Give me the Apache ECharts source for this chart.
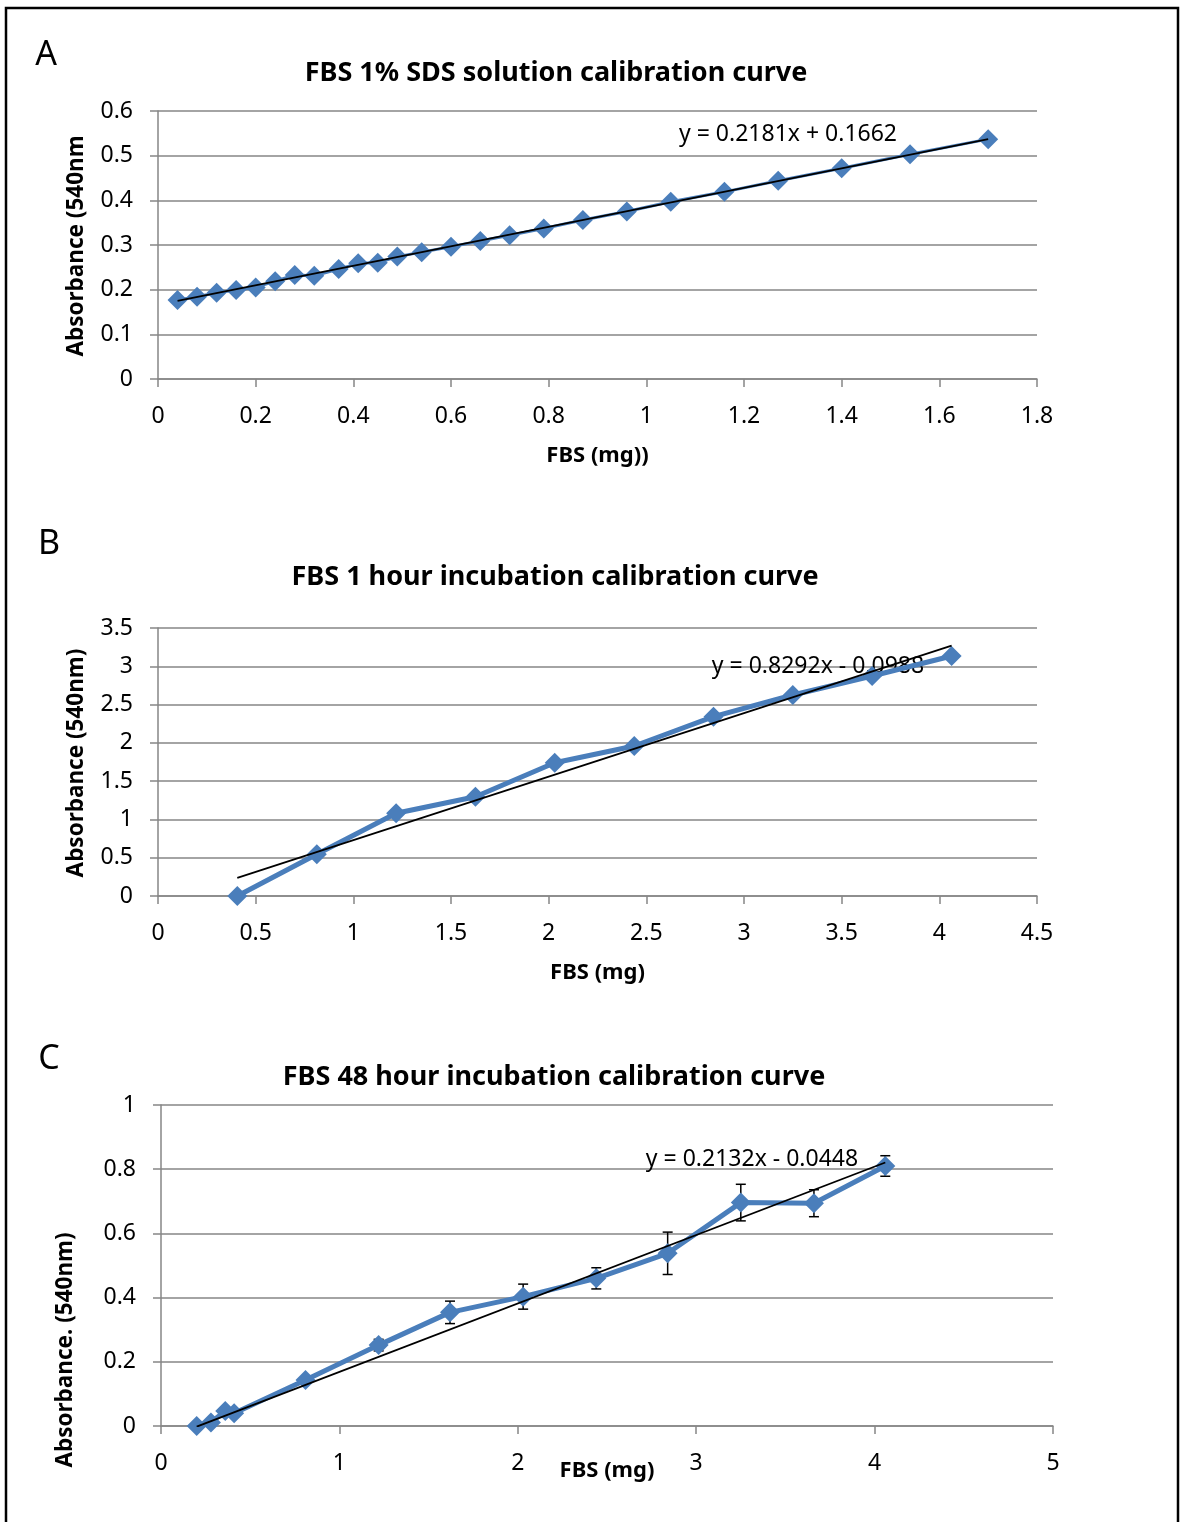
<!DOCTYPE html>
<html><head><meta charset="utf-8">
<script src="https://cdn.jsdelivr.net/npm/echarts@6/dist/echarts.min.js"></script>
<style>html,body{margin:0;padding:0;background:#fff;}#c{width:1180px;height:1522px;}</style>
</head><body><div id="c"></div>
<script>
// ---- Panel A: FBS 1% SDS solution ----
const xA = [0.04,0.08,0.12,0.16,0.20,0.24,0.28,0.32,0.37,0.41,0.45,0.49,0.54,0.60,0.66,0.72,0.79,0.87,0.96,1.05,1.16,1.27,1.40,1.54,1.70];
const yA = [0.177,0.184,0.193,0.199,0.205,0.219,0.233,0.231,0.246,0.259,0.260,0.274,0.284,0.296,0.309,0.322,0.337,0.356,0.375,0.397,0.419,0.444,0.472,0.503,0.537];
const fitA = [0.2181, 0.1662];
// ---- Panel B: 1 hour incubation ----
const xB = [0.406,0.813,1.219,1.625,2.031,2.438,2.844,3.25,3.656,4.063];
const yB = [0.0,0.545,1.08,1.297,1.741,1.959,2.342,2.625,2.873,3.134];
const fitB = [0.8292, -0.0988];
// ---- Panel C: 48 hour incubation ----
const xC = [0.2,0.28,0.36,0.41,0.81,1.22,1.62,2.03,2.44,2.84,3.25,3.66,4.06];
const yC = [0.0,0.011,0.047,0.040,0.143,0.252,0.354,0.403,0.460,0.538,0.696,0.694,0.810];
const errC = [0.004,0.005,0.006,0.005,0.008,0.018,0.035,0.039,0.033,0.066,0.057,0.042,0.032];
const fitC = [0.2132, -0.0448];

const titles = ['FBS 1% SDS solution calibration curve','FBS 1 hour incubation calibration curve','FBS 48 hour incubation calibration curve'];
const equations = ['y = 0.2181x + 0.1662','y = 0.8292x - 0.0988','y = 0.2132x - 0.0448'];
const yNames = ['Absorbance (540nm','Absorbance (540nm)','Absorbance. (540nm)'];
const xNames = ['FBS (mg))','FBS (mg)','FBS (mg)'];
const panelLetters = ['A','B','C'];
const xAxisRanges = [[0,1.8,0.2],[0,4.5,0.5],[0,5,1]];
const yAxisRanges = [[0,0.6,0.1],[0,3.5,0.5],[0,1,0.2]];

const FONT = '"Noto Sans", sans-serif';
const GRAY = '#868686';
const BLUE = '#4a7ebb';

function pairs(xs, ys){ return xs.map((x,i)=>[x, ys[i]]); }
function trend(xs, fit){ const a=Math.min(...xs), b=Math.max(...xs); return [[a, fit[0]*a+fit[1]],[b, fit[0]*b+fit[1]]]; }

const grids = [
  {left:158, top:111, width:879, height:268},
  {left:158, top:628, width:879, height:268},
  {left:161, top:1105, width:892, height:321}
];
const xGaps = [66, 66, 34];

function xAxis(i){
  const r = xAxisRanges[i];
  return {type:'value', gridIndex:i, min:r[0], max:r[1], interval:r[2],
    name:xNames[i], nameLocation:'middle', nameGap:xGaps[i], nameMoveOverlap:false,
    nameTextStyle:{fontFamily:FONT, fontWeight:'bold', fontSize:22, color:'#000'},
    axisLine:{show:true, onZero:false, lineStyle:{color:GRAY, width:1.5}},
    axisTick:{show:true, length:8, lineStyle:{color:GRAY, width:1.5}},
    axisLabel:{fontFamily:FONT, fontSize:23, color:'#000', margin:26},
    splitLine:{show:false}};
}
function yAxis(i){
  const r = yAxisRanges[i];
  return {type:'value', gridIndex:i, min:r[0], max:r[1], interval:r[2],
    axisLine:{show:true, onZero:false, lineStyle:{color:GRAY, width:1.5}},
    axisTick:{show:true, length:8, lineStyle:{color:GRAY, width:1.5}},
    axisLabel:{fontFamily:FONT, fontSize:23, color:'#000', margin:25},
    splitLine:{show:true, lineStyle:{color:GRAY, width:1.5}}};
}

function dataSeries(i, xs, ys, w){
  return {type:'line', xAxisIndex:i, yAxisIndex:i, data:pairs(xs,ys),
    symbol:'diamond', symbolSize:20, showSymbol:true,
    lineStyle:{color:BLUE, width:w}, itemStyle:{color:BLUE}, z:3, animation:false};
}
function trendSeries(i, xs, fit){
  return {type:'line', xAxisIndex:i, yAxisIndex:i, data:trend(xs,fit), symbol:'none',
    lineStyle:{color:'#000', width:1.8}, z:4, animation:false, clip:true};
}

const errSeries = {
  type:'custom', xAxisIndex:2, yAxisIndex:2,
  data: xC.map((x,i)=>[x, yC[i]-errC[i], yC[i]+errC[i]]),
  encode:{x:0, y:[1,2]},
  renderItem(params, api){
    const x = api.value(0);
    const lo = api.coord([x, api.value(1)]);
    const hi = api.coord([x, api.value(2)]);
    const w = 5, st = {stroke:'#000', lineWidth:1.5};
    return {type:'group', children:[
      {type:'line', shape:{x1:lo[0],y1:lo[1],x2:hi[0],y2:hi[1]}, style:st},
      {type:'line', shape:{x1:lo[0]-w,y1:lo[1],x2:lo[0]+w,y2:lo[1]}, style:st},
      {type:'line', shape:{x1:hi[0]-w,y1:hi[1],x2:hi[0]+w,y2:hi[1]}, style:st}
    ]};
  }, z:2, animation:false
};

const titlePos = [[556,73],[555,577],[554,1077]];
const letterPos = [[46,55],[49,544],[49,1059]];
const eqPos = [[788,134],[818,666],[752,1159]];
const yNamePos = [[77,246],[77,763],[66,1350]];

const graphic = [
  {type:'rect', shape:{x:6, y:8, width:1172, height:1540}, style:{fill:'none', stroke:'#000', lineWidth:2.5}, z:100}
];
for (let i=0;i<3;i++){
  graphic.push({type:'text', x:titlePos[i][0], y:titlePos[i][1], style:{text:titles[i], font:'bold 27px '+FONT, fill:'#000', align:'center', verticalAlign:'middle'}});
  graphic.push({type:'text', x:letterPos[i][0], y:letterPos[i][1], style:{text:panelLetters[i], font:'34px '+FONT, fill:'#000', align:'center', verticalAlign:'middle'}});
  graphic.push({type:'text', x:eqPos[i][0], y:eqPos[i][1], style:{text:equations[i], font:'23px '+FONT, fill:'#000', align:'center', verticalAlign:'middle'}, z:1});
  graphic.push({type:'text', x:yNamePos[i][0], y:yNamePos[i][1], rotation:Math.PI/2, style:{text:yNames[i], font:'bold 22.5px '+FONT, fill:'#000', align:'center', verticalAlign:'middle'}});
}

const chart = echarts.init(document.getElementById('c'), null, {renderer:'canvas'});
chart.setOption({
  backgroundColor:'#fff',
  animation:false,
  grid:grids,
  xAxis:[xAxis(0),xAxis(1),xAxis(2)],
  yAxis:[yAxis(0),yAxis(1),yAxis(2)],
  series:[
    dataSeries(0,xA,yA,3), trendSeries(0,xA,fitA),
    dataSeries(1,xB,yB,5), trendSeries(1,xB,fitB),
    errSeries,
    dataSeries(2,xC,yC,5), trendSeries(2,xC,fitC)
  ],
  graphic:graphic
});
</script></body></html>
